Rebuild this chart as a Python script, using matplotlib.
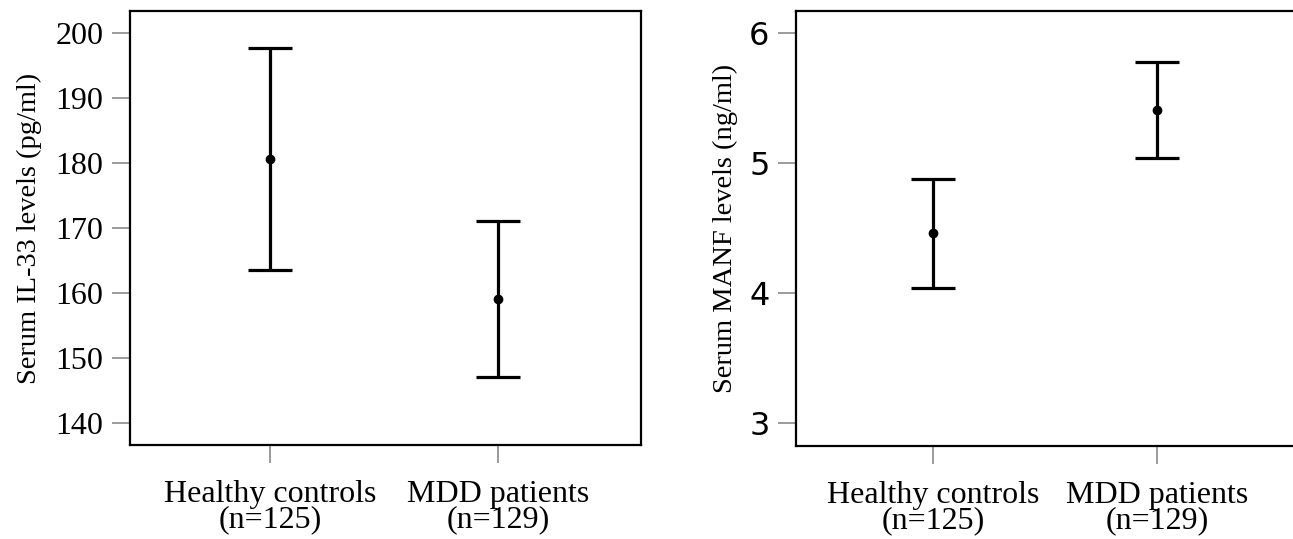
import matplotlib
matplotlib.use("Agg")
import matplotlib.pyplot as plt

groups = ["Healthy controls\n(n=125)", "MDD patients\n(n=129)"]

il33_mean = [180.6, 159.1]
il33_low = [163.5, 147.0]
il33_high = [197.7, 171.1]

manf_mean = [4.46, 5.41]
manf_low = [4.04, 5.04]
manf_high = [4.88, 5.78]

plt.rcParams['font.family'] = ['Liberation Serif']

fig = plt.figure(figsize=(12.93, 5.39), dpi=100)
W, H = 1293, 539

ax1 = fig.add_axes([130 / W, (H - 445) / H, (641 - 130) / W, (445 - 11) / H])
ax2 = fig.add_axes([796 / W, (H - 446) / H, (1297 - 796) / W, (446 - 11) / H])


def draw(ax, mean, low, high, ylim, yticks, ylabel, tickfont, ticksize, lpad):
    x = [1, 2]
    yerr = [[m - l for m, l in zip(mean, low)], [h - m for m, h in zip(mean, high)]]
    ax.errorbar(x, mean, yerr=yerr, fmt='o', color='black', ms=6,
                elinewidth=2.3, capsize=15.5, capthick=2.3)
    ax.set_xlim(0.386, 2.627)
    ax.set_ylim(*ylim)
    ax.set_yticks(yticks)
    ax.set_xticks(x)
    ax.set_xticklabels(groups, fontsize=23, linespacing=0.86)
    ax.set_ylabel(ylabel, fontsize=20.5, labelpad=lpad)
    for lab in ax.get_yticklabels():
        lab.set_fontfamily(tickfont)
    ax.tick_params(axis='both', direction='out', length=13, width=1.2,
                   color='#8a8a8a')
    ax.tick_params(axis='y', labelsize=ticksize, pad=6)
    ax.tick_params(axis='x', pad=12)
    for s in ax.spines.values():
        s.set_linewidth(1.6)


draw(ax1, il33_mean, il33_low, il33_high, (136.6, 203.4),
     [140, 150, 160, 170, 180, 190, 200], "Serum IL-33 levels (pg/ml)",
     'Liberation Serif', 23, 10)
draw(ax2, manf_mean, manf_low, manf_high, (2.82, 6.17),
     [3, 4, 5, 6], "Serum MANF levels (ng/ml)", 'DejaVu Sans', 23, 8)

fig.savefig("out.png", dpi=100)
